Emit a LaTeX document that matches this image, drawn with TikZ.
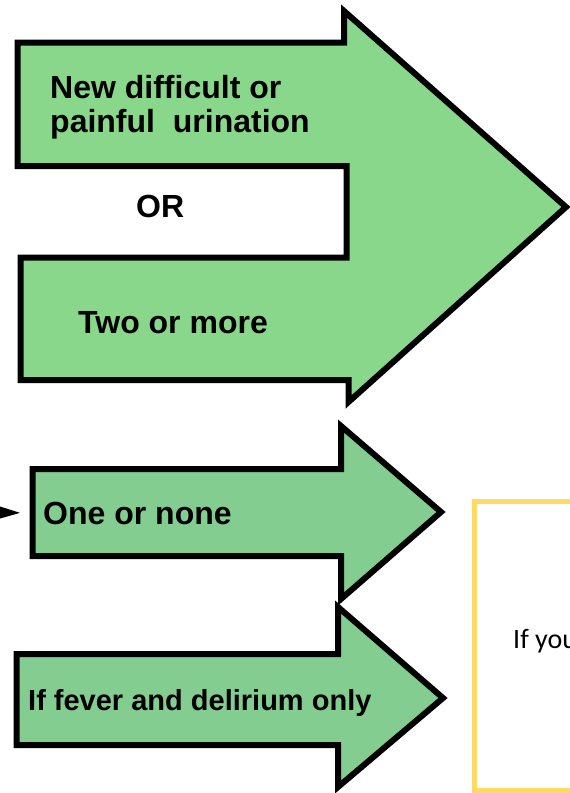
\documentclass[tikz,border=0pt]{standalone}
\usepackage{fontspec}
\setsansfont{Liberation Sans}
\newfontfamily\boxfont{Carlito}
\usetikzlibrary{arrows.meta}
\definecolor{topgreen}{RGB}{137,215,139}
\definecolor{lowgreen}{RGB}{130,205,143}
\definecolor{boxyellow}{RGB}{255,217,102}

\begin{document}
\begin{tikzpicture}[x=1pt,y=-1pt,line join=miter,
  block arrow/.style={draw=black,line width=6pt},
  main text/.style={font=\sffamily\bfseries\fontsize{32}{37}\selectfont,anchor=base west,inner sep=0pt},
  small text/.style={main text,font=\sffamily\bfseries\fontsize{29}{34}\selectfont}]

  \useasboundingbox (0,0) rectangle (570,793);
  \clip (0,0) rectangle (570,793);

  % big arrow with the OR notch
  \draw[block arrow,fill=topgreen] (17.5,42.5) -- (344,42.5) -- (344,11) -- (566,207)
    -- (348.5,402) -- (348.5,380) -- (20.5,380) -- (20.5,257.5) -- (346.5,257.5)
    -- (346.5,166) -- (17.5,166) -- cycle;
  \node[main text] (urin1) at (50,98) {New difficult or};
  \node[main text] (urin2) at (50,132) {painful\ \ urination};
  \node[main text] (or) at (136,217) {OR};
  \node[main text] (two) at (78,333) {Two or more};

  % one or none
  \draw[block arrow,fill=lowgreen] (32.5,469) -- (341,469) -- (341,426) -- (441,512)
    -- (341,599) -- (341,556) -- (32.5,556) -- cycle;
  \node[main text,anchor=west,inner xsep=10.5pt] (one) at (32.5,513) {One or none};

  % fever and delirium
  \draw[block arrow,fill=lowgreen] (16.5,654) -- (338,654) -- (338,607) -- (443,698)
    -- (338,787) -- (338,745) -- (16.5,745) -- cycle;
  \node[small text] (fever) at (28,710) {If fever and delirium only};

  % box on the right
  \draw[boxyellow,line width=5pt] (474.5,501) rectangle (600,790);
  \node[anchor=base west,inner sep=0pt,font=\boxfont\fontsize{28}{33}\selectfont] (you) at (513,648) {If you};

  \coordinate (left) at (-40,512);
  \draw[line width=3pt,-{Stealth[length=30pt,width=18pt]},shorten >=12.5pt] (left) -- (one.west);
\end{tikzpicture}
\end{document}
